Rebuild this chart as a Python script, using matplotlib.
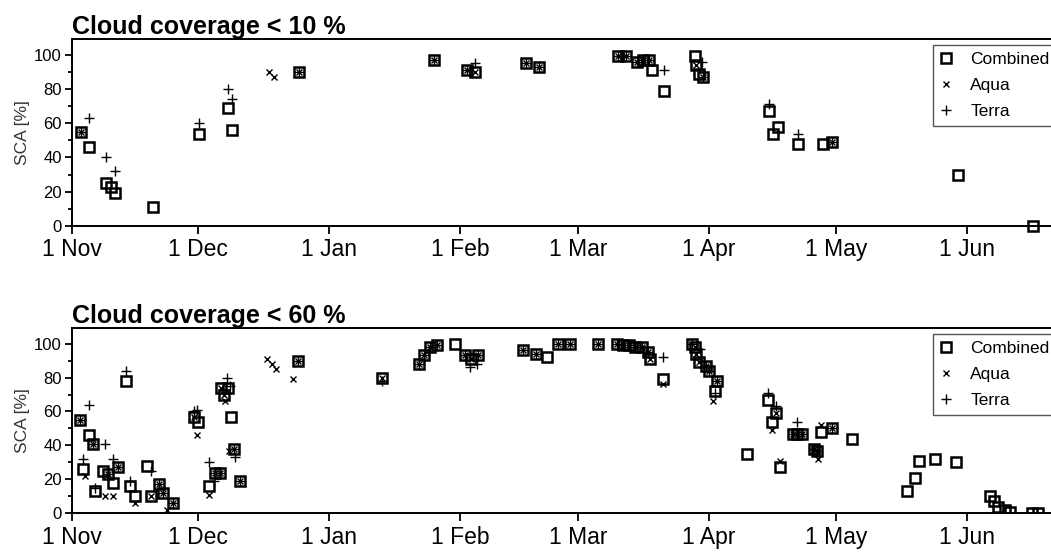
import matplotlib
matplotlib.use('Agg')
import matplotlib.pyplot as plt
import matplotlib.dates as mdates
import numpy as np

plt.rcParams['font.family'] = ['Liberation Sans', 'DejaVu Sans']

season_start = np.datetime64('2010-11-01T00:00')

# days after 1 Nov and snow covered area (%)
# --- cloud coverage < 10 % ---
c10_comb_day = [2.2, 4.2, 8.1, 9.2, 10.3, 19.2, 30.2, 37.0, 38.0, 53.9,
                85.8, 93.6, 95.5, 107.6, 110.7, 129.3, 131.3, 134.0, 135.4, 136.8,
                137.4, 140.3, 147.6, 148.0, 148.7, 149.6, 165.2, 166.2, 167.4, 172.1,
                177.9, 180.2, 210.0, 227.8]
c10_comb_sca = [55, 46, 25, 23, 19, 11, 54, 69, 56, 90,
                97, 91, 90, 95, 93, 99, 99, 96, 97, 97,
                91, 79, 99, 94, 89, 87, 67, 54, 58, 48,
                48, 49, 30, 0]
c10_aqua_day = [2.2, 46.8, 47.9, 53.9, 85.8, 93.6, 95.5, 107.6, 110.7, 129.3,
                131.3, 134.0, 135.4, 136.8, 148.0, 149.6, 180.2]
c10_aqua_sca = [55, 90, 87, 90, 97, 91, 90, 95, 93, 99,
                99, 96, 97, 97, 94, 87, 49]
c10_terra_day = [2.2, 4.2, 8.1, 10.3, 30.2, 37.0, 38.0, 53.9, 85.8, 93.6,
                 95.5, 107.6, 110.7, 129.3, 131.3, 134.0, 135.4, 136.8, 140.3, 149.2,
                 149.6, 165.2, 172.1, 180.2]
c10_terra_sca = [55, 63, 40, 32, 60, 80, 74, 90, 97, 91,
                 95, 95, 93, 99, 99, 96, 97, 97, 91, 96,
                 87, 71, 54, 49]

# --- cloud coverage < 60 % ---
c60_comb_day = [2.0, 2.6, 4.0, 5.0, 5.6, 7.5, 8.7, 9.9, 10.9, 12.9,
                13.8, 15.0, 17.8, 18.8, 20.8, 21.6, 23.9, 28.9, 30.0, 32.6,
                33.9, 35.1, 35.3, 36.0, 37.0, 37.7, 38.4, 39.8, 53.5,
                73.4, 82.3, 83.4, 84.9, 86.5, 90.8, 93.2, 94.7, 96.3, 107.0,
                110.1, 112.5, 115.2, 118.0, 124.6, 129.1, 130.5, 132.0, 133.5, 135.0,
                136.6, 137.0, 140.0, 146.9, 147.7, 147.8, 148.5, 150.2, 150.9, 152.5,
                152.9, 160.0, 165.0, 165.8, 166.8, 167.8, 170.9, 171.9, 172.9, 175.8,
                176.5, 177.6, 180.0, 184.8, 197.8, 199.7, 200.8, 204.6, 209.6, 217.5,
                218.4, 219.5, 221.1, 222.3, 227.5, 229.0]
c60_comb_sca = [55, 26, 46, 41, 13, 25, 23, 18, 27, 78,
                16, 10, 28, 10, 17, 12, 6, 57, 54, 16,
                24, 24, 74, 70, 74, 57, 38, 19, 90,
                80, 88, 93, 98, 99, 100, 93, 91, 93, 96,
                94, 92, 100, 100, 100, 100, 99, 99, 98, 98,
                95, 91, 79, 100, 98, 94, 89, 87, 84, 72,
                78, 35, 67, 54, 59, 27, 47, 47, 47, 38,
                37, 48, 50, 44, 13, 21, 31, 32, 30, 10,
                7, 4, 2, 1, 0, 0]
c60_aqua_day = [2.0, 3.2, 5.0, 7.9, 8.7, 9.9, 10.9, 15.0, 18.8, 20.8,
                21.6, 22.5, 23.9, 28.9, 29.7, 32.6, 33.9, 35.1, 35.3, 36.3,
                36.0, 37.3, 38.4, 39.8, 46.2, 47.4, 48.5, 52.5, 53.5,
                73.4, 82.3, 83.4, 84.9, 86.5, 93.2, 94.7, 96.3, 107.0, 110.1,
                115.2, 118.0, 124.6, 129.1, 130.5, 132.0, 133.5, 135.0, 136.6, 137.0,
                140.0, 147.7, 147.8, 148.5, 150.2, 150.9, 152.0, 152.9, 165.8, 166.8,
                167.8, 170.9, 171.9, 172.9, 175.8, 176.5, 176.8, 177.6, 180.0]
c60_aqua_sca = [55, 22, 41, 10, 23, 10, 27, 6, 10, 17,
                12, 2, 6, 57, 46, 11, 24, 24, 74, 66,
                70, 37, 38, 19, 91, 88, 85, 79, 90,
                80, 88, 93, 98, 99, 93, 91, 93, 96, 94,
                100, 100, 100, 100, 99, 99, 98, 98, 95, 91,
                76, 98, 94, 89, 87, 84, 66, 78, 49, 59,
                31, 47, 47, 47, 38, 37, 32, 52, 50]
c60_terra_day = [2.0, 2.7, 4.0, 5.0, 5.6, 7.9, 8.7, 9.9, 10.9, 12.9,
                 13.8, 18.9, 20.8, 21.6, 23.9, 28.9, 29.7, 32.6, 33.7, 33.9,
                 35.1, 36.7, 37.5, 38.4, 38.7, 39.8, 53.5,
                 73.4, 82.3, 83.4, 84.9, 86.5, 93.2, 94.3, 96.1, 96.3, 107.0,
                 110.1, 115.2, 118.0, 124.6, 129.1, 130.5, 132.0, 133.5, 135.0, 136.6,
                 140.0, 146.9, 148.8, 150.2, 150.9, 152.5, 152.9, 165.0, 166.8, 170.9,
                 171.9, 172.9, 175.8, 176.5, 180.0]
c60_terra_sca = [55, 32, 64, 41, 15, 41, 23, 32, 27, 84,
                 19, 25, 17, 12, 6, 60, 61, 30, 19, 24,
                 24, 80, 75, 38, 33, 19, 90,
                 78, 88, 93, 98, 99, 93, 86, 88, 93, 96,
                 94, 100, 100, 100, 100, 99, 99, 98, 98, 95,
                 92, 100, 97, 87, 84, 71, 78, 71, 63, 47,
                 54, 47, 38, 37, 50]

panels = [
    ('Cloud coverage < 10 %', c10_comb_day, c10_comb_sca, c10_aqua_day, c10_aqua_sca,
     c10_terra_day, c10_terra_sca, False),
    ('Cloud coverage < 60 %', c60_comb_day, c60_comb_sca, c60_aqua_day, c60_aqua_sca,
     c60_terra_day, c60_terra_sca, True),
]


def to_dates(days):
    minutes = np.round(np.asarray(days) * 1440).astype('int64')
    return season_start + minutes.astype('timedelta64[m]')


fig = plt.figure(figsize=(10.51, 5.52), dpi=100)
axes_pos = [[0.0682, 0.5906, 0.9423, 0.3382],
            [0.0682, 0.0701, 0.9423, 0.3351]]

for pos, (title, cd, cs, ad, asca, td, ts, clip) in zip(axes_pos, panels):
    ax = fig.add_axes(pos)
    ax.plot(to_dates(cd), cs, 's', ms=6.8, mfc='none', mec='black', mew=1.8,
            label='Combined', clip_on=clip)
    ax.plot(to_dates(ad), asca, 'x', ms=5, color='black', mew=1.0,
            label='Aqua', clip_on=clip)
    ax.plot(to_dates(td), ts, '+', ms=7, color='black', mew=1.0,
            label='Terra', clip_on=clip)

    ax.set_xlim(season_start, season_start + np.timedelta64(int(234.6 * 1440), 'm'))
    ax.set_ylim(0, 109)
    ax.xaxis.set_major_locator(mdates.MonthLocator())
    ax.xaxis.set_major_formatter(mdates.DateFormatter('1 %b'))
    ax.set_yticks(np.arange(0, 101, 20))
    ax.set_yticks(np.arange(10, 101, 20), minor=True)
    ax.tick_params(axis='x', direction='out', length=6, width=1.3, labelsize=16.5, pad=3)
    ax.tick_params(axis='y', direction='out', length=5, width=1.3, labelsize=12, pad=2)
    ax.tick_params(axis='y', which='minor', direction='out', length=3, width=1.3)
    ax.set_ylabel('SCA [%]', fontsize=12.5, color='#333333', labelpad=3)
    for side in ['left', 'bottom', 'top']:
        ax.spines[side].set_linewidth(1.4)
    ax.spines['right'].set_visible(False)
    ax.set_title(title, loc='left', fontweight='bold', fontsize=18, pad=2)

    leg = ax.legend(loc='upper right', fontsize=12.5, fancybox=False, framealpha=1,
                    edgecolor='#555555', borderaxespad=0.3, handlelength=0.6,
                    handletextpad=1.1, labelspacing=0.62, borderpad=0.42)
    leg.get_frame().set_linewidth(1.0)

fig.savefig('out.png', dpi=100)
